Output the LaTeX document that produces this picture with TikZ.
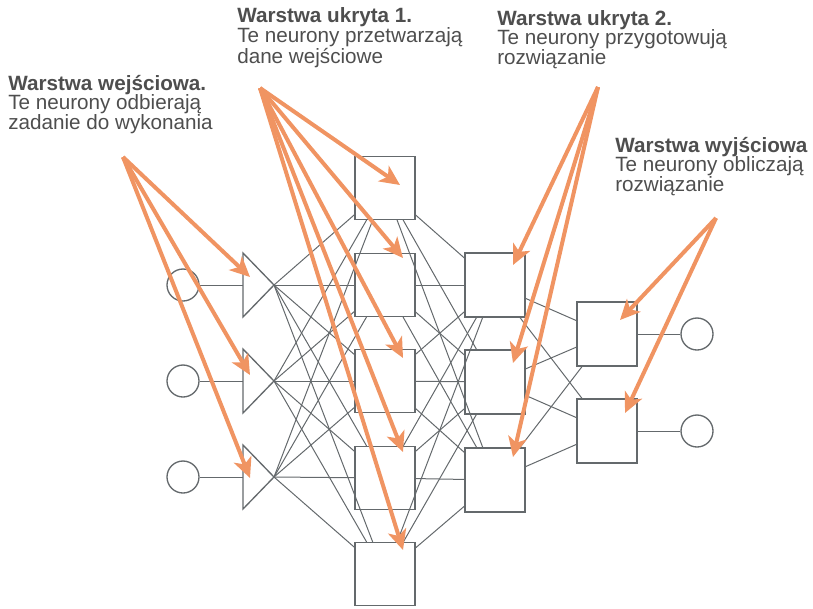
\documentclass[tikz,border=0pt]{standalone}
\usepackage{fontspec}
\setmainfont{Liberation Sans}
\usetikzlibrary{arrows.meta,calc}
\usepackage{xcolor}
\definecolor{arrorange}{RGB}{240,148,98}
\definecolor{netgray}{RGB}{100,105,108}
\definecolor{txtgray}{RGB}{78,78,78}

\begin{document}
\begin{tikzpicture}[
  x=0.75pt, y=-0.75pt,
  neuron/.style={draw=netgray, line width=1.1pt, fill=white, minimum width=45pt, minimum height=47pt, inner sep=0pt},
  term/.style={circle, draw=netgray, line width=1pt, minimum size=24pt, inner sep=0pt},
  link/.style={netgray, line width=0.75pt},
  arr/.style={-{Stealth[length=15pt,width=14pt,inset=4pt]}, arrorange, line width=3pt},
  lbl/.style={anchor=base west, align=left, text=txtgray, inner sep=0pt, font=\fontsize{15.5}{14.6}\selectfont}
]
\useasboundingbox (0,0) rectangle (813,608);

% input layer: circles and triangles
\foreach \y [count=\i] in {285,381,477} {
  \node[term] (in\i) at (183,\y) {};
  \coordinate (base\i) at (243,\y);
  \coordinate (tip\i) at (274,\y);
  \draw[netgray, line width=1pt] (243,{\y-32}) -- (tip\i) -- (243,{\y+32}) -- cycle;
  \draw[link] (in\i) -- (base\i);
}

% hidden layers and output layer
\foreach \y [count=\i] in {188,285,381,478,574}
  \node[neuron] (hA\i) at (385,\y) {};
\foreach \y [count=\i] in {285,382,480}
  \node[neuron, minimum height=48pt] (hB\i) at (495,\y) {};
\foreach \y [count=\i] in {334,431} {
  \node[neuron, minimum height=48pt] (out\i) at (607,\y) {};
  \node[term] (res\i) at (697,\y) {};
}

% connections
\foreach \i in {1,2,3}
  \foreach \j in {1,...,5}
    \draw[link] (tip\i) -- (hA\j);
\foreach \i in {1,...,5}
  \foreach \j in {1,2,3}
    \draw[link] (hA\i) -- (hB\j);
\foreach \i in {1,2,3}
  \foreach \j in {1,2}
    \draw[link] (hB\i) -- (out\j);
\foreach \i in {1,2}
  \draw[link] (out\i) -- (res\i);

% labels (anchored at the baseline of the last line)
\node[lbl] (inlbl) at (8,129) {\textbf{Warstwa wejściowa.}\\Te neurony odbierają\\zadanie do wykonania};
\node[lbl] (hAlbl) at (237,63) {\textbf{Warstwa ukryta 1.}\\Te neurony przetwarzają\\dane wejściowe};
\node[lbl] (hBlbl) at (497,64) {\textbf{Warstwa ukryta 2.}\\Te neurony przygotowują\\rozwiązanie};
\node[lbl] (outlbl) at (615,191) {\textbf{Warstwa wyjściowa}\\Te neurony obliczają\\rozwiązanie};

\coordinate (inA) at (123,157);
\coordinate (hAA) at (260,88);
\coordinate (hBA) at (598,87);
\coordinate (outA) at (716,218);

% pointers
\draw[arr] (inA) -- ($(tip1)+(-24,-8)$);
\draw[arr] (inA) -- ($(tip2)+(-24,-6)$);
\draw[arr] (inA) -- ($(tip3)+(-24,1)$);

\draw[arr] (hAA) -- ($(hA1)+(15,-3)$);
\draw[arr] (hAA) -- ($(hA2)+(18,-27)$);
\draw[arr] (hAA) -- ($(hA3)+(18,-23)$);
\draw[arr] (hAA) -- ($(hA4)+(18,-26)$);
\draw[arr] (hAA) -- ($(hA5)+(18,-24)$);

\draw[arr] (hBA) -- ($(hB1)+(18,-20)$);
\draw[arr] (hBA) -- ($(hB2)+(18,-19)$);
\draw[arr] (hBA) -- ($(hB3)+(18,-23)$);

\draw[arr] (outA) -- ($(out1)+(13,-14)$);
\draw[arr] (outA) -- ($(out2)+(18,-18)$);
\end{tikzpicture}
\end{document}
